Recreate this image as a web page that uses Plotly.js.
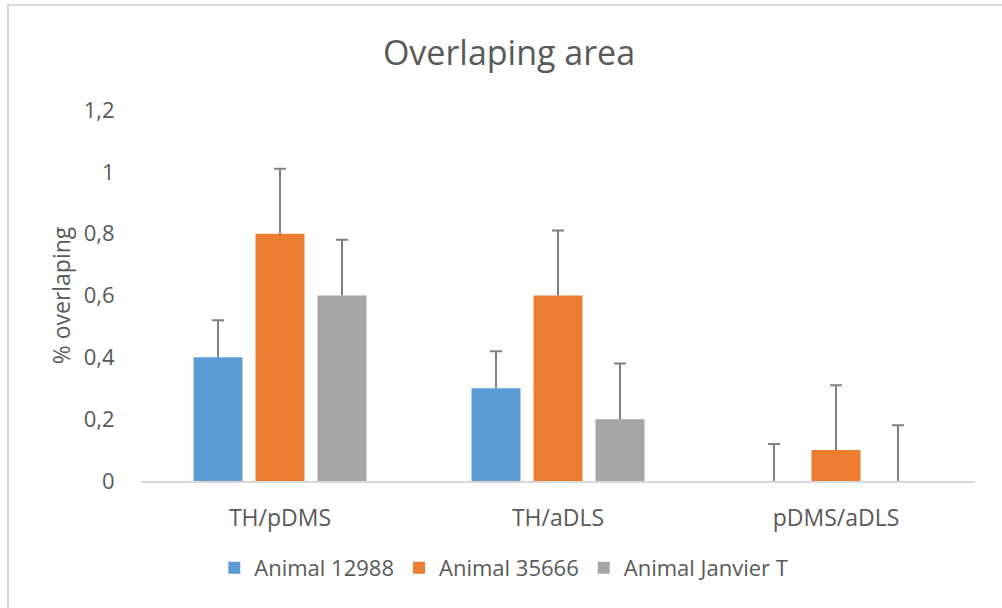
<!DOCTYPE html>
<html>
<head>
<meta charset="utf-8">
<script src="https://cdn.plot.ly/plotly-3.0.1.min.js"></script>
<style>
  html, body { margin: 0; padding: 0; background: #fff; }
  #chart { position: absolute; left: 0; top: 0; width: 1002px; height: 608px; }
  #bl { position: absolute; left: 7px; top: 4px; width: 2px; height: 604px; background: #d9d9d9; }
  #bt { position: absolute; left: 7px; top: 4px; width: 995px; height: 2px; background: #d9d9d9; }
</style>
</head>
<body>
<div id="chart"></div>
<div id="bl"></div>
<div id="bt"></div>
<script>
const categories = ["TH/pDMS", "TH/aDLS", "pDMS/aDLS"];
const seriesNames = ["Animal 12988", "Animal 35666", "Animal Janvier T"];
const animal12988 = [0.4, 0.3, 0];
const animal35666 = [0.8, 0.6, 0.1];
const animalJanvier = [0.6, 0.2, 0];
const err12988 = [0.12, 0.12, 0.12];
const err35666 = [0.21, 0.21, 0.21];
const errJanvier = [0.18, 0.18, 0.18];
const yTickVals = [0, 0.2, 0.4, 0.6, 0.8, 1, 1.2];
const yTickText = ["0", "0,2", "0,4", "0,6", "0,8", "1", "1,2"];

const colors = ["#5b9bd5", "#ed7d31", "#a5a5a5"];
const values = [animal12988, animal35666, animalJanvier];
const errs = [err12988, err35666, errJanvier];

const font = "Open Sans, sans-serif";
const textColor = "#595959";
const errColor = "#808080";

const barTraces = values.map((v, i) => ({
  type: "bar",
  name: seriesNames[i],
  legendgroup: "g" + i,
  offsetgroup: "o" + i,
  x: categories,
  y: v,
  marker: { color: colors[i] },
  error_y: {
    type: "data",
    symmetric: false,
    array: errs[i],
    arrayminus: errs[i].map(() => 0),
    color: errColor,
    thickness: 2,
    width: 0
  },
  hoverinfo: "x+y+name"
}));

const capTraces = values.map((v, i) => ({
  type: "bar",
  name: seriesNames[i],
  legendgroup: "g" + i,
  offsetgroup: "o" + i,
  showlegend: false,
  x: categories,
  y: v.map((val, j) => val + errs[i][j]),
  marker: { color: "rgba(0,0,0,0)" },
  error_y: {
    type: "data",
    array: v.map(() => 0),
    color: errColor,
    thickness: 2,
    width: 6
  },
  hoverinfo: "skip"
}));

const layout = {
  width: 1002,
  height: 608,
  paper_bgcolor: "#ffffff",
  plot_bgcolor: "#ffffff",
  margin: { l: 141, r: 27, t: 110, b: 127 },
  barmode: "group",
  bargap: 0.331,
  bargroupgap: 0.21,
  showlegend: true,
  font: { family: font, color: textColor, size: 23 },
  title: {
    text: "Overlaping area",
    font: { family: font, size: 34, color: textColor },
    x: 0.508,
    xanchor: "center",
    y: 1 - 53 / 608,
    yanchor: "middle"
  },
  xaxis: {
    type: "category",
    showline: true,
    linecolor: "#d9d9d9",
    linewidth: 1.5,
    showgrid: false,
    zeroline: false,
    ticks: "outside",
    ticklen: 16,
    tickcolor: "rgba(0,0,0,0)",
    tickfont: { family: font, size: 23, color: textColor },
    automargin: false
  },
  yaxis: {
    range: [0, 1.2],
    tickvals: yTickVals,
    ticktext: yTickText,
    showgrid: false,
    zeroline: false,
    showline: false,
    ticks: "outside",
    ticklen: 21,
    tickcolor: "rgba(0,0,0,0)",
    tickfont: { family: font, size: 22, color: textColor },
    title: {
      text: "% overlaping",
      font: { family: font, size: 23, color: textColor },
      standoff: 6
    },
    automargin: false
  },
  legend: {
    orientation: "h",
    x: 0.435,
    xanchor: "center",
    y: -(568 - 481) / 371,
    yanchor: "middle",
    font: { family: font, size: 22, color: textColor },
    itemclick: false,
    itemdoubleclick: false
  }
};

Plotly.newPlot("chart", barTraces.concat(capTraces), layout, { displayModeBar: false });
</script>
</body>
</html>
